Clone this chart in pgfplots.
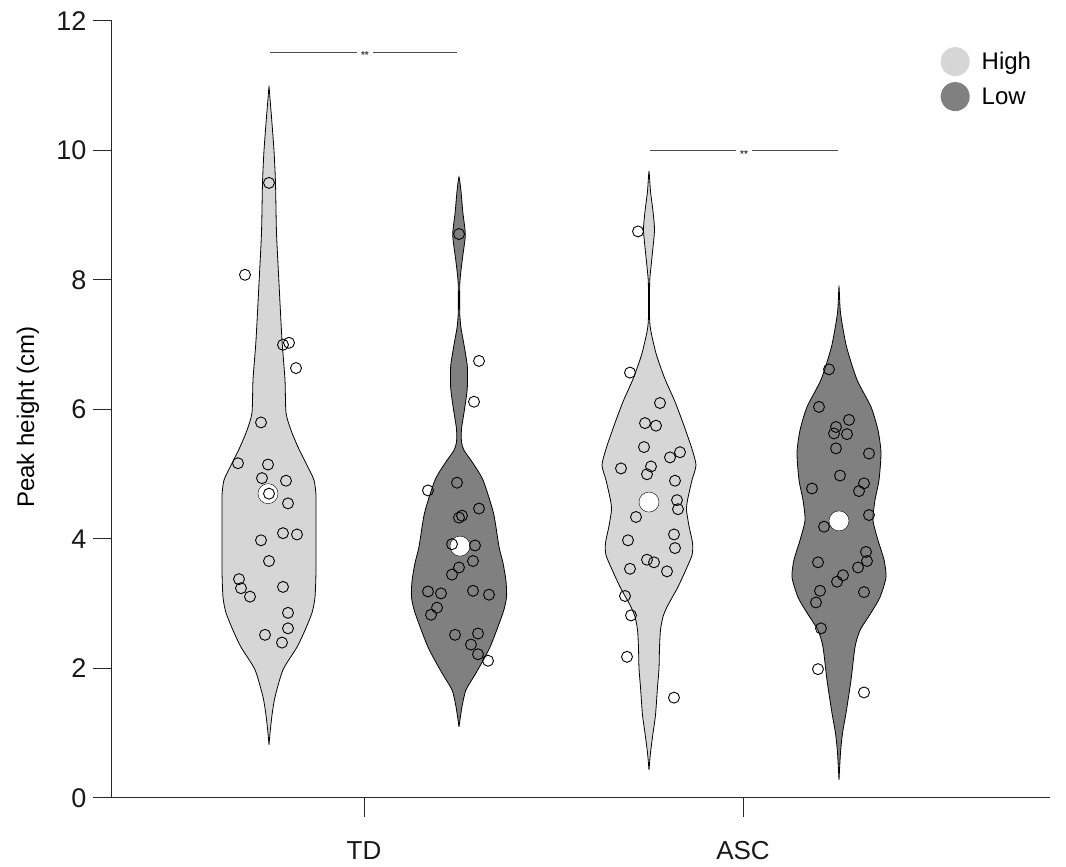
\documentclass[border=0pt]{standalone}
\usepackage{pgfplots}
\pgfplotsset{compat=1.18}
\usepackage{pgfplotstable}
\usepackage{fontspec}
\setmainfont{Liberation Sans}
\definecolor{highc}{RGB}{214,214,214}
\definecolor{lowc}{RGB}{128,128,128}
\definecolor{axc}{RGB}{40,40,40}

% violin outlines: y, signed half-width (px units of x)
\pgfplotstableread{
y w
0.82 0
1.0 1
1.28 3
1.56 6
1.98 14
2.33 28
2.59 36
2.86 43
3.1 46
3.5 47
4.0 47
4.4 47
4.68 47
4.91 45
5.14 38
5.42 29
5.68 22
5.95 17
6.46 16
7.07 13
7.95 10
8.73 7.5
9.5 6.5
10.0 5
10.52 2.5
10.8 1
10.98 0
10.8 -1
10.52 -2.5
10.0 -5
9.5 -6.5
8.73 -7.5
7.95 -10
7.07 -13
6.46 -16
5.95 -17
5.68 -22
5.42 -29
5.14 -38
4.91 -45
4.68 -47
4.4 -47
4.0 -47
3.5 -47
3.1 -46
2.86 -43
2.59 -36
2.33 -28
1.98 -14
1.56 -6
1.28 -3
1.0 -1
0.82 0
}\tdhv

\pgfplotstableread{
y w
1.1 0
1.41 3
1.67 7
1.93 17
2.33 31
2.86 44
3.1 47.5
3.35 47
3.63 44
3.88 40
4.4 34.5
4.91 24
5.17 14
5.37 5
5.5 2.5
5.7 2.5
6.0 5.5
6.33 8.3
6.67 8.3
7.0 5
7.26 2
7.5 0.7
7.9 0.7
8.08 1.5
8.34 3.5
8.7 6.3
9.05 3.8
9.37 2
9.59 0
9.37 -2
9.05 -3.8
8.7 -6.3
8.34 -3.5
8.08 -1.5
7.9 -0.7
7.5 -0.7
7.26 -2
7.0 -5
6.67 -8.3
6.33 -8.3
6.0 -5.5
5.7 -2.5
5.5 -2.5
5.37 -5
5.17 -14
4.91 -24
4.4 -34.5
3.88 -40
3.63 -44
3.35 -47
3.1 -47.5
2.86 -44
2.33 -31
1.93 -17
1.67 -7
1.41 -3
1.1 0
}\tdlv

\pgfplotstableread{
y w
0.43 0
0.7 1.5
1.0 4
1.28 6.5
1.71 8.5
2.0 10
2.32 10.5
2.6 11.5
2.8 14
2.95 18
3.12 24
3.26 29
3.46 35
3.75 43
3.94 43.5
4.2 40
4.45 37.5
4.6 38.5
4.91 43
5.14 47
5.39 43
5.75 35
6.12 26
6.47 16
6.84 7.5
7.2 2
7.4 0.6
7.9 0.6
8.05 1
8.4 3.3
8.77 5.5
9.06 4
9.37 1.5
9.67 0
9.37 -1.5
9.06 -4
8.77 -5.5
8.4 -3.3
8.05 -1
7.9 -0.6
7.4 -0.6
7.2 -2
6.84 -7.5
6.47 -16
6.12 -26
5.75 -35
5.39 -43
5.14 -47
4.91 -43
4.6 -38.5
4.45 -37.5
4.2 -40
3.94 -43.5
3.75 -43
3.46 -35
3.26 -29
3.12 -24
2.95 -18
2.8 -14
2.6 -11.5
2.32 -10.5
2.0 -10
1.71 -8.5
1.28 -6.5
1.0 -4
0.7 -1.5
0.43 0
}\aschv

\pgfplotstableread{
y w
0.28 0
0.7 1.5
1.0 3.5
1.31 7
1.82 12
2.33 16
2.59 21
2.86 32
3.1 41
3.41 47
3.68 45
3.98 39
4.29 34
4.6 36
4.91 40
5.33 42
5.68 39
6.04 32
6.46 18
6.97 7.5
7.49 1.5
7.89 0
7.49 -1.5
6.97 -7.5
6.46 -18
6.04 -32
5.68 -39
5.33 -42
4.91 -40
4.6 -36
4.29 -34
3.98 -39
3.68 -45
3.41 -47
3.1 -41
2.86 -32
2.59 -21
2.33 -16
1.82 -12
1.31 -7
1.0 -3.5
0.7 -1.5
0.28 0
}\asclv

% individual points: x (px position), y
\pgfplotstableread{
x y
269 9.50
245 8.08
283 7.00
289 7.03
296 6.64
261 5.80
238 5.17
268 5.15
262 4.94
286 4.90
269 4.70
288 4.55
283 4.09
297 4.07
261 3.98
269 3.66
239 3.38
241 3.24
250 3.11
283 3.26
288 2.86
288 2.62
265 2.52
282 2.40
}\tdhp

\pgfplotstableread{
x y
459 8.71
479 6.75
474 6.12
428 4.75
457 4.87
479 4.47
459 4.33
462 4.36
452 3.92
475 3.90
473 3.66
459 3.56
452 3.45
428 3.19
441 3.16
473 3.20
489 3.14
437 2.94
431 2.83
455 2.52
478 2.54
471 2.37
478 2.22
488 2.12
}\tdlp

\pgfplotstableread{
x y
638 8.75
630 6.57
660 6.10
645 5.79
656 5.75
644 5.42
670 5.26
680 5.34
621 5.09
651 5.12
647 5.00
675 4.90
677 4.60
678 4.46
636 4.34
628 3.98
674 4.07
675 3.86
647 3.68
654 3.64
630 3.54
667 3.50
625 3.12
631 2.82
627 2.18
674 1.55
}\aschp

\pgfplotstableread{
x y
829 6.62
819 6.04
849 5.84
836 5.73
834 5.63
847 5.62
836 5.40
869 5.32
840 4.98
864 4.86
859 4.74
812 4.78
869 4.37
824 4.19
866 3.80
867 3.66
858 3.56
818 3.64
843 3.44
837 3.34
820 3.20
816 3.02
864 3.18
821 2.62
818 1.99
864 1.63
}\asclp

\begin{document}
\begin{tikzpicture}
\useasboundingbox (-112pt,-69pt) rectangle (954pt,798pt);
\begin{axis}[
  scale only axis, width=938pt, height=777pt,
  xmin=112, xmax=1050, ymin=0, ymax=12,
  axis x line*=bottom, axis y line*=left,
  axis line style={-, draw=axc, line width=1pt},
  xtick={364,743}, xticklabels={TD,ASC},
  ytick={0,2,4,6,8,10,12},
  tick align=outside, major tick length=19pt,
  tick style={draw=axc, line width=1pt},
  /pgf/number format/assume math mode=true,
  tick label style={text=black!90},
  yticklabel style={font=\fontsize{27}{32}\selectfont, xshift=-3pt},
  xticklabel style={font=\fontsize{26}{31}\selectfont, yshift=-21pt},
  ylabel={Peak height (cm)},
  ylabel style={font=\fontsize{24}{29}\selectfont, at={(axis description cs:-0.0896,0.49)}, anchor=center},
  clip=false,
  legend image code/.code={\fill[#1, draw=none] (0pt,0pt) circle (14.5pt);},
  legend style={at={(axis cs:940.5,11.6)}, anchor=north west, draw=none, fill=none,
    inner sep=0pt, font=\fontsize{24}{28}\selectfont, row sep=6pt,
    /tikz/every odd column/.append style={column sep=10pt}},
  legend cell align=left,
]
\addlegendimage{fill=highc, draw=none}
\addlegendentry{High}
\addlegendimage{fill=lowc, draw=none}
\addlegendentry{Low}

% significance bars
\addplot[forget plot, draw=black!70, line width=1pt] coordinates {(270,11.52) (357,11.52)};
\addplot[forget plot, draw=black!70, line width=1pt] coordinates {(373,11.52) (457,11.52)};
\node[font=\fontsize{10}{11}\selectfont\bfseries, text=black!75] at (axis cs:365,11.47) {**};
\addplot[forget plot, draw=black!70, line width=1pt] coordinates {(650,10.0) (736,10.0)};
\addplot[forget plot, draw=black!70, line width=1pt] coordinates {(752,10.0) (838,10.0)};
\node[font=\fontsize{10}{11}\selectfont\bfseries, text=black!75] at (axis cs:744,9.95) {**};

% violins
\addplot[forget plot, smooth, tension=0.4, fill=highc, draw=black, line width=0.8pt] table[x expr=269+\thisrow{w}, y=y] {\tdhv};
\addplot[forget plot, smooth, tension=0.4, fill=lowc, draw=black, line width=0.8pt] table[x expr=459+\thisrow{w}, y=y] {\tdlv};
\addplot[forget plot, smooth, tension=0.4, fill=highc, draw=black, line width=0.8pt] table[x expr=649+\thisrow{w}, y=y] {\aschv};
\addplot[forget plot, smooth, tension=0.4, fill=lowc, draw=black, line width=0.8pt] table[x expr=839+\thisrow{w}, y=y] {\asclv};

% medians
\addplot[forget plot, only marks, mark=*, mark size=10pt, mark options={fill=white, draw=none}] coordinates {(268,4.70) (460,3.89) (649,4.57) (839,4.28)};

% points
\addplot[forget plot, only marks, mark=o, mark size=5.5pt, mark options={draw=black, line width=0.9pt}] table[x=x,y=y] {\tdhp};
\addplot[forget plot, only marks, mark=o, mark size=5.5pt, mark options={draw=black, line width=0.9pt}] table[x=x,y=y] {\tdlp};
\addplot[forget plot, only marks, mark=o, mark size=5.5pt, mark options={draw=black, line width=0.9pt}] table[x=x,y=y] {\aschp};
\addplot[forget plot, only marks, mark=o, mark size=5.5pt, mark options={draw=black, line width=0.9pt}] table[x=x,y=y] {\asclp};
\end{axis}
\end{tikzpicture}
\end{document}
